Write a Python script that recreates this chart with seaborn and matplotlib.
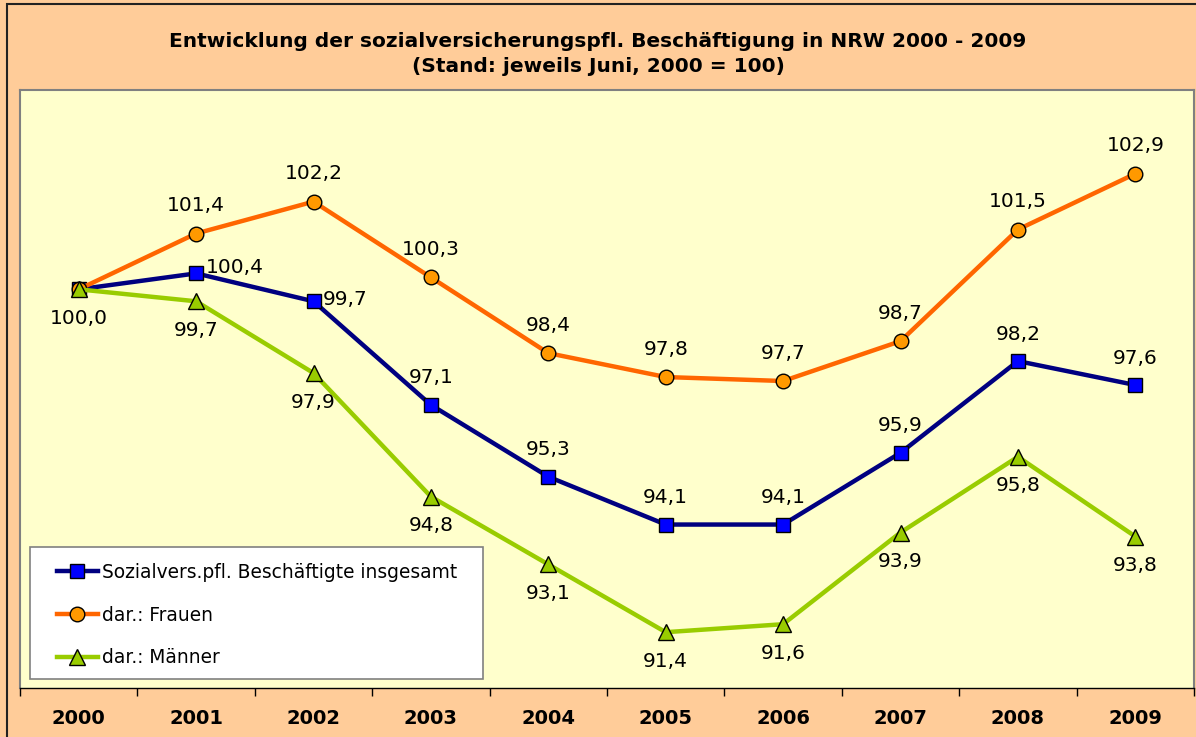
import matplotlib
matplotlib.use("Agg")
import matplotlib.pyplot as plt
from matplotlib.patches import Rectangle
import seaborn as sns
import numpy as np

years = ["2000", "2001", "2002", "2003", "2004", "2005", "2006", "2007", "2008", "2009"]
insgesamt = [100.0, 100.4, 99.7, 97.1, 95.3, 94.1, 94.1, 95.9, 98.2, 97.6]
frauen = [100.0, 101.4, 102.2, 100.3, 98.4, 97.8, 97.7, 98.7, 101.5, 102.9]
maenner = [100.0, 99.7, 97.9, 94.8, 93.1, 91.4, 91.6, 93.9, 95.8, 93.8]
series_names = ["Sozialvers.pfl. Beschäftigte insgesamt", "dar.: Frauen", "dar.: Männer"]
title_text = "Entwicklung der sozialversicherungspfl. Beschäftigung in NRW 2000 - 2009\n(Stand: jeweils Juni, 2000 = 100)"

plt.rcParams['font.family'] = ['DejaVu Sans']

W, H = 1196, 737
fig = plt.figure(figsize=(W / 100, H / 100), dpi=100)
fig.patch.set_facecolor("#FFCC99")

# outer chart border (left/top visible, rest cropped)
fig.patches.append(Rectangle((7 / W, -0.2), 1.2, 1 - 4 / H + 0.2, transform=fig.transFigure,
                             fill=False, edgecolor="#222222", linewidth=1.5))

AX_L, AX_R, AX_T, AX_B = 20, 1194, 90, 688
AW, AH = AX_R - AX_L, AX_B - AX_T
ax = fig.add_axes([AX_L / W, (H - AX_B) / H, AW / W, AH / H])
ax.set_facecolor("#FFFFCC")

x = np.arange(len(years))
sns.lineplot(x=x, y=insgesamt, ax=ax, color="#000080", linewidth=3.2, marker="s", markersize=9.5,
             markerfacecolor="#0000FF", markeredgecolor="black", markeredgewidth=1, label=series_names[0],
             sort=False, zorder=3)
sns.lineplot(x=x, y=frauen, ax=ax, color="#FF6600", linewidth=3.2, marker="o", markersize=10.5,
             markerfacecolor="#FF9900", markeredgecolor="black", markeredgewidth=1, label=series_names[1],
             sort=False, zorder=4)
sns.lineplot(x=x, y=maenner, ax=ax, color="#99CC00", linewidth=3.2, marker="^", markersize=11.5,
             markerfacecolor="#99CC00", markeredgecolor="black", markeredgewidth=1, label=series_names[2],
             sort=False, zorder=5)

ax.set_xlim(-0.5, len(years) - 0.5)
ax.set_ylim(90, 105)
ax.set_yticks([])
ax.set_ylabel("")
ax.set_xlabel("")

# ticks at category boundaries, labels centered
ax.set_xticks(np.arange(-0.5, len(years), 1.0))
ax.set_xticklabels([])
ax.set_xticks(x, minor=True)
ax.set_xticklabels(years, minor=True, fontsize=14, fontweight="bold")
ax.tick_params(axis="x", which="major", direction="out", length=6, width=1, color="black")
ax.tick_params(axis="x", which="minor", length=0, pad=15)

for side in ["top", "left", "right"]:
    ax.spines[side].set_color("#808080")
    ax.spines[side].set_linewidth(1.5)
ax.spines["bottom"].set_color("black")
ax.spines["bottom"].set_linewidth(1)

def fmt(v):
    return f"{v:.1f}".replace(".", ",")

lab_fs = 14.5
# Frauen labels above
for i in range(1, len(years)):
    ax.annotate(fmt(frauen[i]), (x[i], frauen[i]), xytext=(0, 28), textcoords="offset pixels",
                ha="center", va="center", fontsize=lab_fs, zorder=6)
# Männer labels below (incl. 2000)
for i in range(0, len(years)):
    ax.annotate(fmt(maenner[i]), (x[i], maenner[i]), xytext=(0, -29), textcoords="offset pixels",
                ha="center", va="center", fontsize=lab_fs, zorder=6)
# Insgesamt labels
for i in range(1, len(years)):
    if i in (1, 2):
        off = (10, 6) if i == 1 else (9, 2)
        ax.annotate(fmt(insgesamt[i]), (x[i], insgesamt[i]), xytext=off, textcoords="offset pixels",
                    ha="left", va="center", fontsize=lab_fs, zorder=6)
    else:
        ax.annotate(fmt(insgesamt[i]), (x[i], insgesamt[i]), xytext=(0, 27), textcoords="offset pixels",
                    ha="center", va="center", fontsize=lab_fs, zorder=6)

# legend box drawn separately
ax.add_patch(Rectangle(((30 - AX_L) / AW, (AX_B - 679) / AH), (483 - 30) / AW, (679 - 547) / AH,
                       transform=ax.transAxes, facecolor="white", edgecolor="#808080",
                       linewidth=1.2, zorder=7))
leg = ax.legend(loc="upper left", bbox_to_anchor=((57 - AX_L) / AW, (AX_B - 563) / AH), borderaxespad=0,
                borderpad=0, fontsize=13.4, frameon=False, handlelength=2.2, handletextpad=0.2,
                labelspacing=1.27)
leg.set_zorder(8)

fig.text(0.5, 1 - 54 / H, title_text, ha="center", va="center", fontsize=14.5, fontweight="bold",
         linespacing=1.4)

fig.savefig("out.png", dpi=100, facecolor=fig.get_facecolor())
